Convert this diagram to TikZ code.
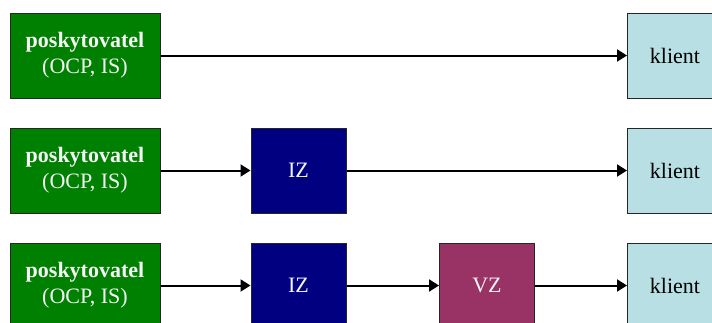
\documentclass[tikz,border=0pt]{standalone}
\usepackage{fontspec}
\setmainfont{Liberation Serif}
\usetikzlibrary{arrows.meta}
\definecolor{provgreen}{RGB}{0,128,0}
\definecolor{navyblue}{RGB}{0,0,128}
\definecolor{vzpurple}{RGB}{153,51,102}
\definecolor{klientblue}{RGB}{184,224,228}
\definecolor{offwhite}{RGB}{245,245,245}
\begin{document}
\begin{tikzpicture}[x=1pt,y=-1pt,
  box/.style={draw=black!85, line width=1pt, minimum height=85pt, inner sep=0pt, align=center, font=\fontsize{22}{26}\selectfont},
  prov/.style={box, fill=provgreen, text=offwhite, minimum width=150pt},
  izbox/.style={box, fill=navyblue, text=offwhite, minimum width=95pt},
  vzbox/.style={box, fill=vzpurple, text=offwhite, minimum width=95pt},
  klbox/.style={box, fill=klientblue, text=black, minimum width=95pt},
  conn/.style={line width=2pt, -{Triangle[length=10pt,width=12pt]}}]
\useasboundingbox (0,0) rectangle (712,322);
\clip (0,0) rectangle (712,322);
% row 1
\node[prov] (p1) at (85,55.5) {\textbf{poskytovatel}\\(OCP, IS)};
\node[klbox] (k1) at (675,55.5) {klient};
\draw[conn] (p1.east) -- (k1.west);
% row 2
\node[prov] (p2) at (85,170.5) {\textbf{poskytovatel}\\(OCP, IS)};
\node[izbox] (iz2) at (298.5,170.5) {IZ};
\node[klbox] (k2) at (675,170.5) {klient};
\draw[conn] (p2.east) -- (iz2.west);
\draw[conn] (iz2.east) -- (k2.west);
% row 3
\node[prov] (p3) at (85,285.5) {\textbf{poskytovatel}\\(OCP, IS)};
\node[izbox] (iz3) at (298.5,285.5) {IZ};
\node[vzbox] (vz3) at (487,285.5) {VZ};
\node[klbox] (k3) at (675,285.5) {klient};
\draw[conn] (p3.east) -- (iz3.west);
\draw[conn] (iz3.east) -- (vz3.west);
\draw[conn] (vz3.east) -- (k3.west);
\end{tikzpicture}
\end{document}
